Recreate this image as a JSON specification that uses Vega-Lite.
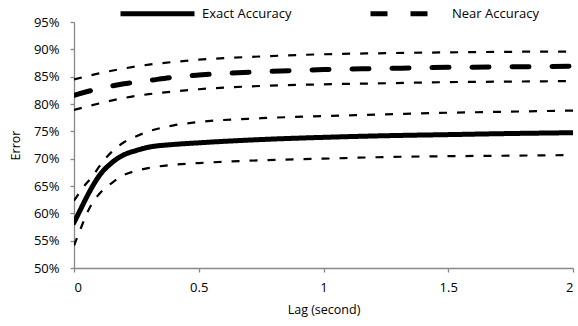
{
  "$schema": "https://vega.github.io/schema/vega-lite/v6.json",
  "width": 499,
  "height": 246,
  "autosize": {"type": "none"},
  "padding": {"left": 74, "top": 22, "right": 5, "bottom": 58},
  "background": "white",
  "config": {
    "view": {"stroke": null},
    "font": "Open Sans",
    "axis": {
      "grid": false,
      "domainColor": "#888888",
      "tickColor": "#888888",
      "domainWidth": 1.3,
      "tickWidth": 1.3,
      "labelColor": "#000000",
      "titleColor": "#000000",
      "labelFontSize": 13,
      "titleFontSize": 12.5,
      "titleFontWeight": "normal",
      "labelFont": "Open Sans",
      "titleFont": "Open Sans"
    }
  },
  "data": {
    "values": [
      {"lag": 0, "v": 58.3, "s": "Exact Accuracy"},
      {"lag": 0.025, "v": 60.6, "s": "Exact Accuracy"},
      {"lag": 0.05, "v": 62.9, "s": "Exact Accuracy"},
      {"lag": 0.075, "v": 65.0, "s": "Exact Accuracy"},
      {"lag": 0.1, "v": 66.8, "s": "Exact Accuracy"},
      {"lag": 0.15, "v": 69.2, "s": "Exact Accuracy"},
      {"lag": 0.2, "v": 70.7, "s": "Exact Accuracy"},
      {"lag": 0.25, "v": 71.5, "s": "Exact Accuracy"},
      {"lag": 0.3, "v": 72.1, "s": "Exact Accuracy"},
      {"lag": 0.4, "v": 72.6, "s": "Exact Accuracy"},
      {"lag": 0.5, "v": 72.9, "s": "Exact Accuracy"},
      {"lag": 0.75, "v": 73.5, "s": "Exact Accuracy"},
      {"lag": 1, "v": 73.9, "s": "Exact Accuracy"},
      {"lag": 1.25, "v": 74.2, "s": "Exact Accuracy"},
      {"lag": 1.5, "v": 74.4, "s": "Exact Accuracy"},
      {"lag": 1.75, "v": 74.6, "s": "Exact Accuracy"},
      {"lag": 2, "v": 74.75, "s": "Exact Accuracy"},

      {"lag": 0, "v": 62.3, "s": "Exact upper"},
      {"lag": 0.025, "v": 64.0, "s": "Exact upper"},
      {"lag": 0.05, "v": 65.5, "s": "Exact upper"},
      {"lag": 0.075, "v": 66.8, "s": "Exact upper"},
      {"lag": 0.1, "v": 68.5, "s": "Exact upper"},
      {"lag": 0.15, "v": 71.2, "s": "Exact upper"},
      {"lag": 0.2, "v": 73.0, "s": "Exact upper"},
      {"lag": 0.25, "v": 74.1, "s": "Exact upper"},
      {"lag": 0.3, "v": 75.0, "s": "Exact upper"},
      {"lag": 0.4, "v": 76.1, "s": "Exact upper"},
      {"lag": 0.5, "v": 76.7, "s": "Exact upper"},
      {"lag": 0.75, "v": 77.4, "s": "Exact upper"},
      {"lag": 1, "v": 77.8, "s": "Exact upper"},
      {"lag": 1.25, "v": 78.1, "s": "Exact upper"},
      {"lag": 1.5, "v": 78.4, "s": "Exact upper"},
      {"lag": 1.75, "v": 78.6, "s": "Exact upper"},
      {"lag": 2, "v": 78.8, "s": "Exact upper"},

      {"lag": 0, "v": 54.1, "s": "Exact lower"},
      {"lag": 0.025, "v": 57.0, "s": "Exact lower"},
      {"lag": 0.05, "v": 59.8, "s": "Exact lower"},
      {"lag": 0.075, "v": 62.0, "s": "Exact lower"},
      {"lag": 0.1, "v": 63.5, "s": "Exact lower"},
      {"lag": 0.15, "v": 65.5, "s": "Exact lower"},
      {"lag": 0.2, "v": 67.0, "s": "Exact lower"},
      {"lag": 0.25, "v": 67.8, "s": "Exact lower"},
      {"lag": 0.3, "v": 68.3, "s": "Exact lower"},
      {"lag": 0.4, "v": 68.9, "s": "Exact lower"},
      {"lag": 0.5, "v": 69.2, "s": "Exact lower"},
      {"lag": 0.75, "v": 69.7, "s": "Exact lower"},
      {"lag": 1, "v": 70.0, "s": "Exact lower"},
      {"lag": 1.25, "v": 70.3, "s": "Exact lower"},
      {"lag": 1.5, "v": 70.45, "s": "Exact lower"},
      {"lag": 1.75, "v": 70.55, "s": "Exact lower"},
      {"lag": 2, "v": 70.65, "s": "Exact lower"},

      {"lag": 0, "v": 81.6, "s": "Near Accuracy"},
      {"lag": 0.1, "v": 82.8, "s": "Near Accuracy"},
      {"lag": 0.2, "v": 83.7, "s": "Near Accuracy"},
      {"lag": 0.3, "v": 84.3, "s": "Near Accuracy"},
      {"lag": 0.4, "v": 84.9, "s": "Near Accuracy"},
      {"lag": 0.5, "v": 85.3, "s": "Near Accuracy"},
      {"lag": 0.75, "v": 85.9, "s": "Near Accuracy"},
      {"lag": 1, "v": 86.3, "s": "Near Accuracy"},
      {"lag": 1.25, "v": 86.5, "s": "Near Accuracy"},
      {"lag": 1.5, "v": 86.7, "s": "Near Accuracy"},
      {"lag": 1.75, "v": 86.8, "s": "Near Accuracy"},
      {"lag": 2, "v": 86.9, "s": "Near Accuracy"},

      {"lag": 0, "v": 84.5, "s": "Near upper"},
      {"lag": 0.1, "v": 85.6, "s": "Near upper"},
      {"lag": 0.2, "v": 86.5, "s": "Near upper"},
      {"lag": 0.3, "v": 87.2, "s": "Near upper"},
      {"lag": 0.4, "v": 87.7, "s": "Near upper"},
      {"lag": 0.5, "v": 88.1, "s": "Near upper"},
      {"lag": 0.75, "v": 88.7, "s": "Near upper"},
      {"lag": 1, "v": 89.1, "s": "Near upper"},
      {"lag": 1.25, "v": 89.3, "s": "Near upper"},
      {"lag": 1.5, "v": 89.45, "s": "Near upper"},
      {"lag": 1.75, "v": 89.55, "s": "Near upper"},
      {"lag": 2, "v": 89.6, "s": "Near upper"},

      {"lag": 0, "v": 78.9, "s": "Near lower"},
      {"lag": 0.1, "v": 80.1, "s": "Near lower"},
      {"lag": 0.2, "v": 81.1, "s": "Near lower"},
      {"lag": 0.3, "v": 81.8, "s": "Near lower"},
      {"lag": 0.4, "v": 82.3, "s": "Near lower"},
      {"lag": 0.5, "v": 82.7, "s": "Near lower"},
      {"lag": 0.75, "v": 83.3, "s": "Near lower"},
      {"lag": 1, "v": 83.6, "s": "Near lower"},
      {"lag": 1.25, "v": 83.8, "s": "Near lower"},
      {"lag": 1.5, "v": 84.0, "s": "Near lower"},
      {"lag": 1.75, "v": 84.1, "s": "Near lower"},
      {"lag": 2, "v": 84.2, "s": "Near lower"}
    ]
  },
  "encoding": {
    "x": {
      "field": "lag",
      "type": "quantitative",
      "scale": {"domain": [0, 2], "nice": false},
      "axis": {
        "title": "Lag (second)",
        "values": [0, 0.5, 1, 1.5, 2],
        "format": ".1~f",
        "tickSize": 4,
        "labelPadding": 9,
        "titlePadding": 9
      }
    },
    "y": {
      "field": "v",
      "type": "quantitative",
      "scale": {"domain": [50, 95], "nice": false, "zero": false},
      "axis": {
        "title": "Error",
        "values": [50, 55, 60, 65, 70, 75, 80, 85, 90, 95],
        "labelExpr": "datum.value + '%'",
        "tickSize": 4,
        "labelPadding": 11,
        "titlePadding": 11
      }
    }
  },
  "layer": [
    {
      "transform": [{"filter": "datum.s != 'Exact Accuracy' && datum.s != 'Near Accuracy'"}],
      "mark": {"type": "line", "interpolate": "monotone", "color": "#000000", "strokeWidth": 2.2, "strokeDash": [8, 10], "clip": true},
      "encoding": {"detail": {"field": "s"}}
    },
    {
      "transform": [{"filter": "datum.s == 'Exact Accuracy' || datum.s == 'Near Accuracy'"}],
      "mark": {"type": "line", "interpolate": "monotone", "color": "#000000", "strokeWidth": 5, "strokeCap": "round", "clip": true},
      "encoding": {
        "strokeDash": {
          "field": "s",
          "type": "nominal",
          "scale": {"domain": ["Exact Accuracy", "Near Accuracy"], "range": [[1, 0], [17, 23]]},
          "legend": {
            "title": null,
            "orient": "none",
            "legendX": 44,
            "legendY": -48,
            "direction": "horizontal",
            "symbolType": "stroke",
            "symbolSize": 5476,
            "symbolStrokeWidth": 5,
            "symbolStrokeColor": "#000000",
            "labelFontSize": 13,
            "labelFont": "Open Sans",
            "labelColor": "#000000",
            "labelOffset": 5,
            "columnPadding": 68
          }
        }
      }
    }
  ]
}
